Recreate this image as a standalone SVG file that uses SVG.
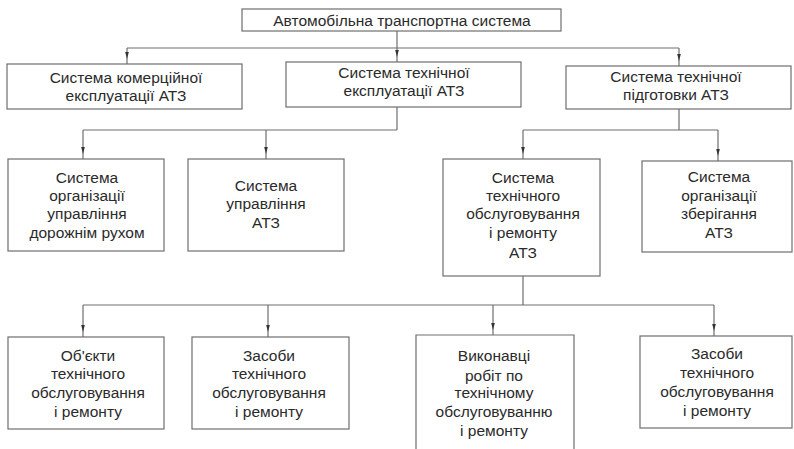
<svg xmlns="http://www.w3.org/2000/svg" width="794" height="449" viewBox="0 0 794 449">
  <style>
    .box { fill: #ffffff; stroke: #6e6e6e; stroke-width: 1.2; }
    .lbl { font-family: "Liberation Sans", Arial, sans-serif; font-size: 15.5px; fill: #2a2a2a; text-anchor: middle; }
    .wire { fill: none; stroke: #6e6e6e; stroke-width: 1.2; marker-mid: url(#tip); }
    .wire-plain { fill: none; stroke: #6e6e6e; stroke-width: 1.2; }
  </style>
  <defs>
    <marker id="tip" markerUnits="userSpaceOnUse" markerWidth="7" markerHeight="4" refX="7" refY="2" orient="auto">
      <path d="M0,0.2 L7,2 L0,3.8 z" fill="#333333"/>
    </marker>
  </defs>
  <rect width="794" height="449" fill="#ffffff"/>

  <!-- connectors -->
  <g id="connectors">
    <!-- root to level 1 -->
    <path class="wire-plain" d="M397,31 V48 M127,48 H679"/>
    <path class="wire" d="M127,48 V59 V64"/>
    <path class="wire" d="M397,48 V57 V62"/>
    <path class="wire" d="M679,48 V61 V66"/>
    <!-- technical operation to its subsystems -->
    <path class="wire-plain" d="M397,107 V130 M83,130 H397"/>
    <path class="wire" d="M83,130 V154 V159"/>
    <path class="wire" d="M266,130 V154 V159"/>
    <!-- technical preparation to its subsystems -->
    <path class="wire-plain" d="M679,109 V130 M523,130 H718"/>
    <path class="wire" d="M523,130 V154 V159"/>
    <path class="wire" d="M718,130 V156 V161"/>
    <!-- maintenance system to its components -->
    <path class="wire-plain" d="M523,276 V305 M83,305 H714"/>
    <path class="wire" d="M83,305 V332 V337"/>
    <path class="wire" d="M268,305 V332 V337"/>
    <path class="wire" d="M493,305 V330 V335"/>
    <path class="wire" d="M714,305 V331 V336"/>
  </g>

  <g id="root">
    <rect class="box" x="242" y="9" width="319" height="22"/>
    <text class="lbl" x="402" y="26">Автомобільна транспортна система</text>
  </g>

  <g id="commercial">
    <rect class="box" x="7" y="64" width="235" height="45"/>
    <text class="lbl" x="126" y="83">Система комерційної</text>
    <text class="lbl" x="126" y="101">експлуатації АТЗ</text>
  </g>

  <g id="tech-operation">
    <rect class="box" x="286" y="62" width="235" height="45"/>
    <text class="lbl" x="404" y="78">Система технічної</text>
    <text class="lbl" x="404" y="96">експлуатації АТЗ</text>
  </g>

  <g id="tech-preparation">
    <rect class="box" x="566" y="66" width="225" height="43"/>
    <text class="lbl" x="676" y="82">Система технічної</text>
    <text class="lbl" x="676" y="100">підготовки АТЗ</text>
  </g>

  <g id="traffic">
    <rect class="box" x="8" y="159" width="156" height="92"/>
    <text class="lbl" x="87" y="183">Система</text>
    <text class="lbl" x="87" y="201">організації</text>
    <text class="lbl" x="87" y="219">управління</text>
    <text class="lbl" x="87" y="238">дорожнім рухом</text>
  </g>

  <g id="management">
    <rect class="box" x="188" y="159" width="156" height="92"/>
    <text class="lbl" x="266" y="191">Система</text>
    <text class="lbl" x="266" y="209">управління</text>
    <text class="lbl" x="266" y="228">АТЗ</text>
  </g>

  <g id="maintenance">
    <rect class="box" x="443" y="159" width="157" height="117"/>
    <text class="lbl" x="523" y="183">Система</text>
    <text class="lbl" x="523" y="201">технічного</text>
    <text class="lbl" x="523" y="219">обслуговування</text>
    <text class="lbl" x="523" y="238">і ремонту</text>
    <text class="lbl" x="523" y="258">АТЗ</text>
  </g>

  <g id="storage">
    <rect class="box" x="642" y="161" width="150" height="91"/>
    <text class="lbl" x="719" y="182">Система</text>
    <text class="lbl" x="719" y="201">організації</text>
    <text class="lbl" x="719" y="219">зберігання</text>
    <text class="lbl" x="719" y="238">АТЗ</text>
  </g>

  <g id="objects">
    <rect class="box" x="8" y="337" width="156" height="92"/>
    <text class="lbl" x="88" y="361">Об'єкти</text>
    <text class="lbl" x="88" y="379">технічного</text>
    <text class="lbl" x="88" y="398">обслуговування</text>
    <text class="lbl" x="88" y="417">і ремонту</text>
  </g>

  <g id="means-1">
    <rect class="box" x="192" y="337" width="157" height="92"/>
    <text class="lbl" x="269" y="361">Засоби</text>
    <text class="lbl" x="269" y="379">технічного</text>
    <text class="lbl" x="269" y="398">обслуговування</text>
    <text class="lbl" x="269" y="417">і ремонту</text>
  </g>

  <g id="performers">
    <path class="box" d="M416,449 V335 H574 V449"/>
    <text class="lbl" x="494" y="361">Виконавці</text>
    <text class="lbl" x="494" y="381">робіт по</text>
    <text class="lbl" x="494" y="398">технічному</text>
    <text class="lbl" x="494" y="417">обслуговуванню</text>
    <text class="lbl" x="494" y="436">і ремонту</text>
  </g>

  <g id="means-2">
    <rect class="box" x="640" y="336" width="152" height="92"/>
    <text class="lbl" x="717" y="359">Засоби</text>
    <text class="lbl" x="717" y="378">технічного</text>
    <text class="lbl" x="717" y="397">обслуговування</text>
    <text class="lbl" x="717" y="416">і ремонту</text>
  </g>
</svg>
